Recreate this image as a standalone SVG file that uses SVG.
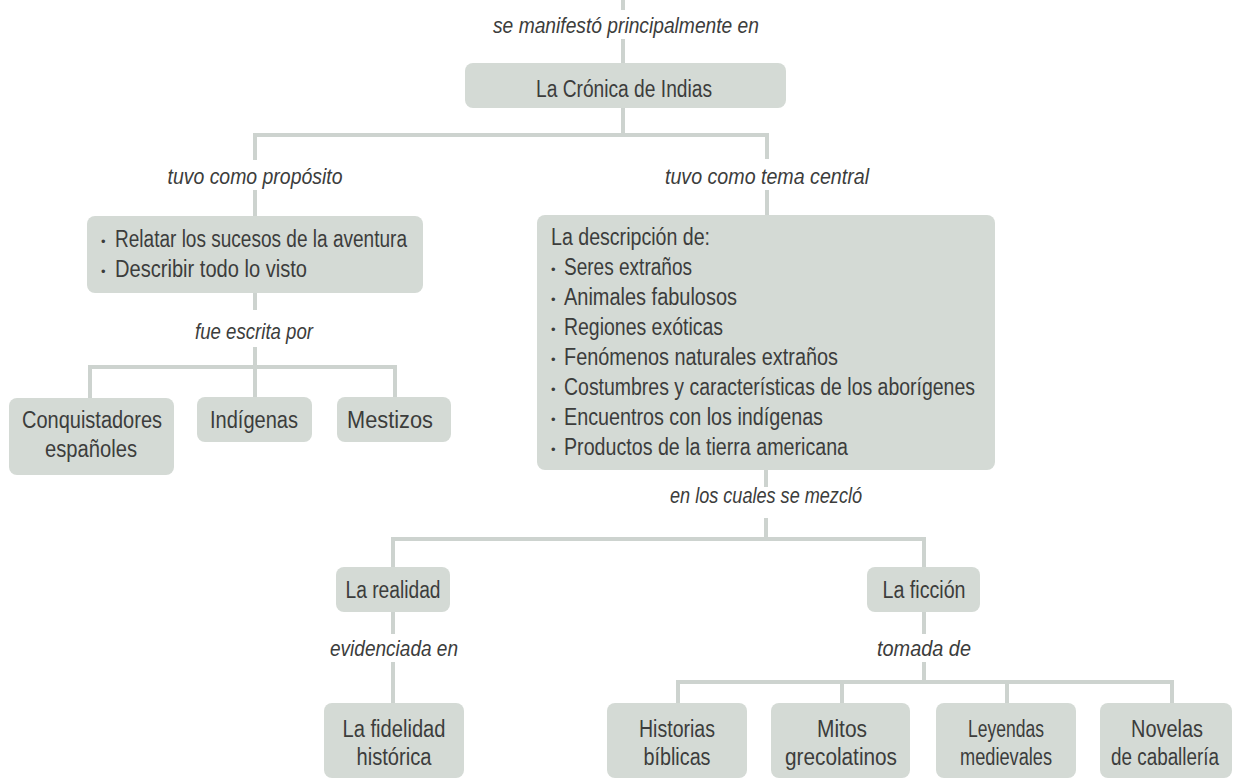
<svg xmlns="http://www.w3.org/2000/svg" width="1237" height="780" viewBox="0 0 1237 780">
<style>
.bg{fill:#ffffff}
.box{fill:#d4dad5}
.con{stroke:#cdd3cf;stroke-width:4;fill:none;stroke-linecap:square}
.t{font-family:"Liberation Sans Narrow","Liberation Sans",Arial,sans-serif;font-size:23px;fill:#3c3d3c}
.c{text-anchor:middle}
.lbl{font-family:"Liberation Sans Narrow","Liberation Sans",Arial,sans-serif;font-size:22px;font-style:italic;fill:#3c3d3c;text-anchor:middle}
.b{font-family:"Liberation Sans",Arial,sans-serif;font-size:13px;fill:#3c3d3c}
</style>
<rect class="bg" x="0" y="0" width="1237" height="780"/>
<g id="connectors">
<line class="con" x1="623" y1="0" x2="623" y2="8"/>
<line class="con" x1="623" y1="41" x2="623" y2="63"/>
<line class="con" x1="623" y1="108" x2="623" y2="135"/>
<polyline class="con" points="255,158 255,135 767,135 767,157"/>
<line class="con" x1="255" y1="192" x2="255" y2="216"/>
<line class="con" x1="767" y1="192" x2="767" y2="215"/>
<line class="con" x1="255" y1="293" x2="255" y2="308"/>
<line class="con" x1="255" y1="349" x2="255" y2="397"/>
<polyline class="con" points="90,398 90,367 395,367 395,397"/>
<line class="con" x1="766" y1="470" x2="766" y2="485"/>
<line class="con" x1="766" y1="520" x2="766" y2="539"/>
<polyline class="con" points="393,567 393,539 924,539 924,567"/>
<line class="con" x1="393" y1="612" x2="393" y2="632"/>
<line class="con" x1="393" y1="664" x2="393" y2="703"/>
<line class="con" x1="924" y1="612" x2="924" y2="632"/>
<line class="con" x1="924" y1="664" x2="924" y2="682"/>
<polyline class="con" points="678,703 678,682 1172,682 1172,703"/>
<line class="con" x1="842" y1="682" x2="842" y2="703"/>
<line class="con" x1="1007" y1="682" x2="1007" y2="703"/>
</g>
<g id="labels">
<text class="lbl" x="626" y="33" textLength="266" lengthAdjust="spacingAndGlyphs">se manifestó principalmente en</text>
<text class="lbl" x="255" y="184" textLength="175" lengthAdjust="spacingAndGlyphs">tuvo como propósito</text>
<text class="lbl" x="767" y="184" textLength="204" lengthAdjust="spacingAndGlyphs">tuvo como tema central</text>
<text class="lbl" x="254" y="339" textLength="118" lengthAdjust="spacingAndGlyphs">fue escrita por</text>
<text class="lbl" x="766" y="503" textLength="192" lengthAdjust="spacingAndGlyphs">en los cuales se mezcló</text>
<text class="lbl" x="394" y="656" textLength="128" lengthAdjust="spacingAndGlyphs">evidenciada en</text>
<text class="lbl" x="924" y="656" textLength="94" lengthAdjust="spacingAndGlyphs">tomada de</text>
</g>
<g id="cronica">
<rect class="box" x="465" y="63" width="321" height="45" rx="8"/>
<text class="t c" x="624" y="97" textLength="176" lengthAdjust="spacingAndGlyphs">La Crónica de Indias</text>
</g>
<g id="proposito">
<rect class="box" x="87" y="216" width="336" height="77" rx="8"/>
<text class="b" x="101" y="246">•</text>
<text class="t" x="115" y="247" textLength="292" lengthAdjust="spacingAndGlyphs">Relatar los sucesos de la aventura</text>
<text class="b" x="101" y="276">•</text>
<text class="t" x="115" y="277" textLength="192" lengthAdjust="spacingAndGlyphs">Describir todo lo visto</text>
</g>
<g id="tema">
<rect class="box" x="537" y="215" width="458" height="255" rx="8"/>
<text class="t" x="551" y="245" textLength="159" lengthAdjust="spacingAndGlyphs">La descripción de:</text>
<text class="b" x="551" y="274">•</text>
<text class="t" x="564" y="275" textLength="128" lengthAdjust="spacingAndGlyphs">Seres extraños</text>
<text class="b" x="551" y="304">•</text>
<text class="t" x="564" y="305" textLength="173" lengthAdjust="spacingAndGlyphs">Animales fabulosos</text>
<text class="b" x="551" y="334">•</text>
<text class="t" x="564" y="335" textLength="159" lengthAdjust="spacingAndGlyphs">Regiones exóticas</text>
<text class="b" x="551" y="364">•</text>
<text class="t" x="564" y="365" textLength="274" lengthAdjust="spacingAndGlyphs">Fenómenos naturales extraños</text>
<text class="b" x="551" y="394">•</text>
<text class="t" x="564" y="395" textLength="411" lengthAdjust="spacingAndGlyphs">Costumbres y características de los aborígenes</text>
<text class="b" x="551" y="424">•</text>
<text class="t" x="564" y="425" textLength="259" lengthAdjust="spacingAndGlyphs">Encuentros con los indígenas</text>
<text class="b" x="551" y="454">•</text>
<text class="t" x="564" y="455" textLength="284" lengthAdjust="spacingAndGlyphs">Productos de la tierra americana</text>
</g>
<g id="conquistadores">
<rect class="box" x="9" y="398" width="165" height="77" rx="8"/>
<text class="t c" x="92" y="428" textLength="140" lengthAdjust="spacingAndGlyphs">Conquistadores</text>
<text class="t c" x="91" y="457" textLength="92" lengthAdjust="spacingAndGlyphs">españoles</text>
</g>
<g id="indigenas">
<rect class="box" x="197" y="397" width="115" height="45" rx="8"/>
<text class="t c" x="254" y="428" textLength="88" lengthAdjust="spacingAndGlyphs">Indígenas</text>
</g>
<g id="mestizos">
<rect class="box" x="337" y="397" width="114" height="45" rx="8"/>
<text class="t c" x="390" y="428" textLength="86" lengthAdjust="spacingAndGlyphs">Mestizos</text>
</g>
<g id="realidad">
<rect class="box" x="336" y="567" width="114" height="45" rx="8"/>
<text class="t c" x="393" y="598" textLength="95" lengthAdjust="spacingAndGlyphs">La realidad</text>
</g>
<g id="ficcion">
<rect class="box" x="867" y="567" width="113" height="45" rx="8"/>
<text class="t c" x="924" y="598" textLength="83" lengthAdjust="spacingAndGlyphs">La ficción</text>
</g>
<g id="fidelidad">
<rect class="box" x="324" y="703" width="140" height="75" rx="8"/>
<text class="t c" x="394" y="737" textLength="103" lengthAdjust="spacingAndGlyphs">La fidelidad</text>
<text class="t c" x="394" y="765" textLength="75" lengthAdjust="spacingAndGlyphs">histórica</text>
</g>
<g id="historias">
<rect class="box" x="607" y="703" width="140" height="75" rx="8"/>
<text class="t c" x="677" y="737" textLength="76" lengthAdjust="spacingAndGlyphs">Historias</text>
<text class="t c" x="677" y="765" textLength="67" lengthAdjust="spacingAndGlyphs">bíblicas</text>
</g>
<g id="mitos">
<rect class="box" x="771" y="703" width="139" height="75" rx="8"/>
<text class="t c" x="842" y="737" textLength="50" lengthAdjust="spacingAndGlyphs">Mitos</text>
<text class="t c" x="841" y="765" textLength="112" lengthAdjust="spacingAndGlyphs">grecolatinos</text>
</g>
<g id="leyendas">
<rect class="box" x="936" y="703" width="140" height="75" rx="8"/>
<text class="t c" x="1006" y="737" textLength="76" lengthAdjust="spacingAndGlyphs">Leyendas</text>
<text class="t c" x="1006" y="765" textLength="92" lengthAdjust="spacingAndGlyphs">medievales</text>
</g>
<g id="novelas">
<rect class="box" x="1100" y="703" width="132" height="75" rx="8"/>
<text class="t c" x="1167" y="737" textLength="72" lengthAdjust="spacingAndGlyphs">Novelas</text>
<text class="t c" x="1165" y="765" font-size="22" textLength="108" lengthAdjust="spacingAndGlyphs">de caballería</text>
</g>
</svg>
